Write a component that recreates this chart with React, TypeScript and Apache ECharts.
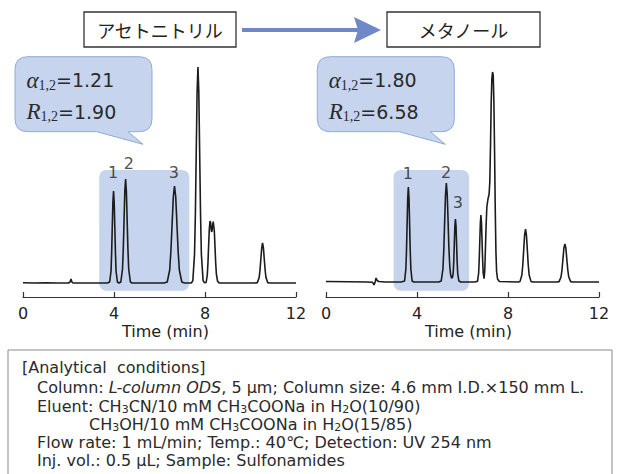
import React, { useEffect, useRef } from "react";
import * as echarts from "echarts";

// ---------- data ----------
const xTickInterval = 4;
const xMin = 0;
const xMax = 12;
const axisTitle = "Time (min)";
const solventNames = ["アセトニトリル", "メタノール"];
const alphaValues = ["1.21", "1.80"];
const resolutionValues = ["1.90", "6.58"];

// Acetonitrile chromatogram [time (min), signal]
const acnTrace: [number, number][] = [
  [0, 0.3], [0.5, 0], [1.0, 0.2], [1.5, 0], [2.0, 0], [2.07, 1], [2.11, 4], [2.15, 1], [2.2, 0], [3.0, 0], [3.7, 0],
  [3.81, 1], [3.87, 12], [3.896, 30], [3.924, 56], [3.952, 81], [3.98, 92], [4.008, 81], [4.036, 56], [4.064, 30], [4.09, 12], [4.15, 1], [4.22, 0],
  [4.3, 1], [4.374, 14], [4.408, 34], [4.442, 63], [4.476, 92], [4.51, 104], [4.544, 92], [4.578, 63], [4.612, 34], [4.646, 14], [4.72, 1], [4.8, 0],
  [6.2, 0], [6.34, 1], [6.448, 13], [6.501, 32], [6.554, 59], [6.607, 86], [6.66, 97], [6.713, 86], [6.766, 59], [6.819, 32], [6.872, 13], [6.98, 1], [7.1, 0],
  [7.4, 0], [7.465, 2.4], [7.54, 29], [7.578, 70], [7.615, 131], [7.653, 191], [7.69, 216], [7.728, 191], [7.765, 131], [7.803, 70], [7.84, 29], [7.915, 2.4], [7.98, 0.3],
  [8.05, 0.5], [8.1, 8], [8.13, 20], [8.16, 38], [8.19, 54], [8.22, 62], [8.25, 60], [8.28, 52], [8.3, 51], [8.33, 56], [8.36, 61.5], [8.38, 61], [8.41, 52], [8.44, 36], [8.47, 20], [8.5, 9], [8.55, 2], [8.62, 0],
  [10.2, 0], [10.305, 0.4], [10.38, 5.4], [10.418, 13], [10.455, 24], [10.493, 35], [10.53, 40], [10.568, 35], [10.605, 24], [10.643, 13], [10.68, 5.4], [10.755, 0.4], [10.85, 0], [12, 0],
];

// Methanol chromatogram [time (min), signal]
const meohTrace: [number, number][] = [
  [0, 0.5], [1.0, 0.2], [1.8, 0], [2.05, -0.3], [2.11, -3], [2.16, 0], [2.2, 4], [2.25, 1.5], [2.32, 0.5], [2.6, 0], [3.3, 0],
  [3.455, 1], [3.51, 13], [3.538, 31], [3.565, 58], [3.593, 84], [3.62, 95], [3.648, 84], [3.675, 58], [3.703, 31], [3.73, 13], [3.785, 1], [3.86, 0],
  [4.95, 0], [5.065, 1.1], [5.14, 13], [5.178, 32], [5.215, 60], [5.253, 87], [5.29, 99], [5.328, 88], [5.365, 62], [5.4, 35], [5.44, 16], [5.48, 7], [5.525, 3.8],
  [5.56, 5], [5.59, 8.5], [5.615, 20], [5.64, 38], [5.665, 56], [5.69, 63], [5.715, 56], [5.74, 38], [5.765, 20], [5.79, 8.5], [5.84, 1.2], [5.92, 0],
  [6.55, 0], [6.66, 0.7], [6.71, 9], [6.735, 22], [6.76, 41], [6.785, 59], [6.81, 67], [6.835, 59], [6.86, 41], [6.885, 22], [6.91, 9], [6.95, 3.4],
  [6.98, 12], [7.01, 35], [7.04, 58], [7.07, 75], [7.12, 83], [7.17, 88], [7.2, 100], [7.23, 135], [7.26, 178], [7.29, 203], [7.32, 210], [7.35, 207],
  [7.38, 180], [7.41, 130], [7.44, 72], [7.47, 30], [7.5, 10], [7.54, 3], [7.62, 0.5],
  [8.45, 0], [8.53, 0.6], [8.61, 7], [8.65, 17], [8.69, 32], [8.73, 47], [8.77, 53], [8.81, 47], [8.85, 32], [8.89, 17], [8.93, 7], [9.01, 0.6], [9.1, 0],
  [10.15, 0], [10.245, 0.4], [10.33, 5], [10.373, 12], [10.415, 23], [10.458, 34], [10.5, 38], [10.543, 34], [10.585, 23], [10.628, 12], [10.67, 5], [10.755, 0.4], [10.85, 0], [12, 0],
];

// peak number labels: [label, time, signal]
const acnPeakLabels: [string, number, number][] = [["1", 3.96, 111], ["2", 4.65, 120], ["3", 6.63, 111]];
const meohPeakLabels: [string, number, number][] = [["1", 3.6, 109], ["2", 5.28, 110], ["3", 5.8, 80]];

// highlighted regions: [t0, t1, s0, s1]
const acnHighlight = [3.35, 7.31, -7.7, 113];
const meohHighlight = [2.97, 6.29, -8.7, 112];

const conditionLines = [
  "[Analytical  conditions]",
  "Column: {i|L-column ODS}, 5 µm; Column size: 4.6 mm I.D.×150 mm L.",
  "Eluent: CH{s|3}CN/10 mM CH{s|3}COONa in H{s|2}O(10/90)",
  "CH{s|3}OH/10 mM CH{s|3}COONa in H{s|2}O(15/85)",
  "Flow rate: 1 mL/min; Temp.: 40℃; Detection: UV 254 nm",
  "Inj. vol.: 0.5 µL; Sample: Sulfonamides",
];

// ---------- styles ----------
const SANS = "DejaVu Sans";
const CJK = "Noto Sans CJK JP";
const SERIF = "Liberation Serif";
const BLUE_FILL = "#c6d4ed";
const BLUE_STROKE = "#8fabdb";

const bubblePath =
  "M13,0 L124,0 Q137,0 137,13 L137,62 Q137,75 124,75 L113,75 L128,87.6 L81.7,75 L13,75 Q0,75 0,62 L0,13 Q0,0 13,0 Z";

export default function App() {
  const ref = useRef<HTMLDivElement>(null);
  useEffect(() => {
    if (!ref.current) return;
    echarts.graphic.registerShape("bubble", echarts.graphic.extendPath(bubblePath, {}));
    const chart = echarts.init(ref.current, null, { renderer: "svg" });

    const grids = [
      { left: 23, top: 60, width: 273, height: 237 },
      { left: 326, top: 60, width: 273, height: 237 },
    ];
    const yRanges = [
      [-14, 223],
      [-15, 222],
    ];
    const traces = [acnTrace, meohTrace];
    const labels = [acnPeakLabels, meohPeakLabels];

    const option: any = {
      animation: false,
      grid: grids,
      xAxis: grids.map((_, i) => ({
        gridIndex: i,
        type: "value",
        min: xMin,
        max: xMax,
        interval: xTickInterval,
        axisLine: { onZero: false, lineStyle: { color: "#333", width: 1.2 } },
        axisTick: { inside: true, length: 5, lineStyle: { color: "#333", width: 1.2 } },
        axisLabel: { fontSize: 16, color: "#222", fontFamily: SANS, margin: 8 },
        splitLine: { show: false },
        name: axisTitle,
        nameLocation: "middle",
        nameGap: 26,
        nameTextStyle: { fontSize: 16, color: "#222", fontFamily: SANS, padding: [0, 0, 0, 12] },
      })),
      yAxis: grids.map((_, i) => ({
        gridIndex: i,
        type: "value",
        min: yRanges[i][0],
        max: yRanges[i][1],
        show: false,
        splitLine: { show: false },
      })),
      series: [
        ...traces.map((d, i) => ({
          type: "line",
          xAxisIndex: i,
          yAxisIndex: i,
          data: d,
          showSymbol: false,
          symbol: "none",
          lineStyle: { color: "#1c1c1c", width: 1.6 },
          z: 3,
        })),
        ...labels.map((l, i) => ({
          type: "scatter",
          xAxisIndex: i,
          yAxisIndex: i,
          symbolSize: 0,
          data: l.map((p) => ({ name: p[0], value: [p[1], p[2]] })),
          label: {
            show: true,
            position: "inside",
            formatter: "{b}",
            fontSize: 16,
            color: "#222",
            fontFamily: SANS,
          },
          z: 4,
        })),
      ],
    };
    chart.setOption(option);

    const hls = [acnHighlight, meohHighlight].map((h, i) => {
      const a = chart.convertToPixel({ gridIndex: i } as any, [h[0], h[3]]) as number[];
      const b = chart.convertToPixel({ gridIndex: i } as any, [h[1], h[2]]) as number[];
      return {
        type: "rect",
        z: 0,
        shape: { x: a[0], y: a[1], width: b[0] - a[0], height: b[1] - a[1], r: 7 },
        style: { fill: BLUE_FILL },
      };
    });

    const headerBoxes = [
      { x: 84, w: 152 },
      { x: 387, w: 153 },
    ];
    const headers: any[] = [];
    headerBoxes.forEach((b, i) => {
      headers.push({
        type: "rect",
        shape: { x: b.x, y: 12, width: b.w, height: 35 },
        style: { fill: "#fff", stroke: "#333", lineWidth: 1.3 },
      });
      headers.push({
        type: "text",
        x: b.x + b.w / 2,
        y: 30,
        style: {
          text: solventNames[i],
          fontSize: 18,
          fontFamily: CJK,
          fill: "#222",
          align: "center",
          verticalAlign: "middle",
        },
      });
    });

    const arrow = [
      {
        type: "line",
        shape: { x1: 242, y1: 30, x2: 360, y2: 30 },
        style: { stroke: "#6f88c8", lineWidth: 4 },
      },
      {
        type: "polygon",
        shape: { points: [[354, 17], [381, 30], [354, 43], [358, 30]] },
        style: { fill: "#6f88c8" },
      },
    ];

    const bubbleOrigins = [
      [15, 56.7],
      [317.3, 56.7],
    ];
    const richStyles = {
      g: { fontFamily: SERIF, fontStyle: "italic", fontSize: 23, lineHeight: 24, fill: "#2a2a2a" },
      s: { fontFamily: SERIF, fontSize: 14, lineHeight: 8, verticalAlign: "bottom", fill: "#2a2a2a" },
      n: { fontFamily: SANS, fontSize: 19, lineHeight: 24, fill: "#2a2a2a" },
    };
    const bubbles: any[] = [];
    bubbleOrigins.forEach((o, i) => {
      bubbles.push({
        type: "bubble",
        x: o[0],
        y: o[1],
        z: 5,
        style: { fill: BLUE_FILL, stroke: BLUE_STROKE, lineWidth: 1 },
      });
      bubbles.push({
        type: "text",
        x: o[0] + 11.5,
        y: 80,
        z: 6,
        style: {
          text: `{g|α}{s|1,2}{n|=${alphaValues[i]}}`,
          rich: richStyles,
          verticalAlign: "middle",
          align: "left",
        },
      });
      bubbles.push({
        type: "text",
        x: o[0] + 11.5,
        y: 111.7,
        z: 6,
        style: {
          text: `{g|R}{s|1,2}{n|=${resolutionValues[i]}}`,
          rich: richStyles,
          verticalAlign: "middle",
          align: "left",
        },
      });
    });

    const condPos = [
      [22, 367],
      [37, 387],
      [37, 406],
      [89, 424],
      [37, 442],
      [37, 460],
    ];
    const conditions: any[] = [
      {
        type: "rect",
        shape: { x: 8, y: 350, width: 604, height: 140 },
        style: { fill: "#fff", stroke: "#8a8a8a", lineWidth: 1 },
      },
      ...conditionLines.map((t, i) => ({
        type: "text",
        x: condPos[i][0],
        y: condPos[i][1],
        style: {
          text: t,
          fontSize: 16,
          fontFamily: SANS,
          lineHeight: 18,
          fill: "#2a2a2a",
          align: "left",
          verticalAlign: "middle",
          rich: {
            i: { fontSize: 16, fontFamily: SANS, fontStyle: "italic", lineHeight: 18, fill: "#2a2a2a" },
            s: { fontSize: 11, fontFamily: SANS, lineHeight: 8, verticalAlign: "bottom", fill: "#2a2a2a" },
          },
        },
      })),
    ];

    chart.setOption({
      graphic: { elements: [...hls, ...headers, ...arrow, ...bubbles, ...conditions] },
    });

    return () => chart.dispose();
  }, []);

  return (
    <div
      ref={ref}
      style={{ position: "fixed", left: 0, top: 0, width: 619, height: 474, background: "#fff" }}
    />
  );
}
